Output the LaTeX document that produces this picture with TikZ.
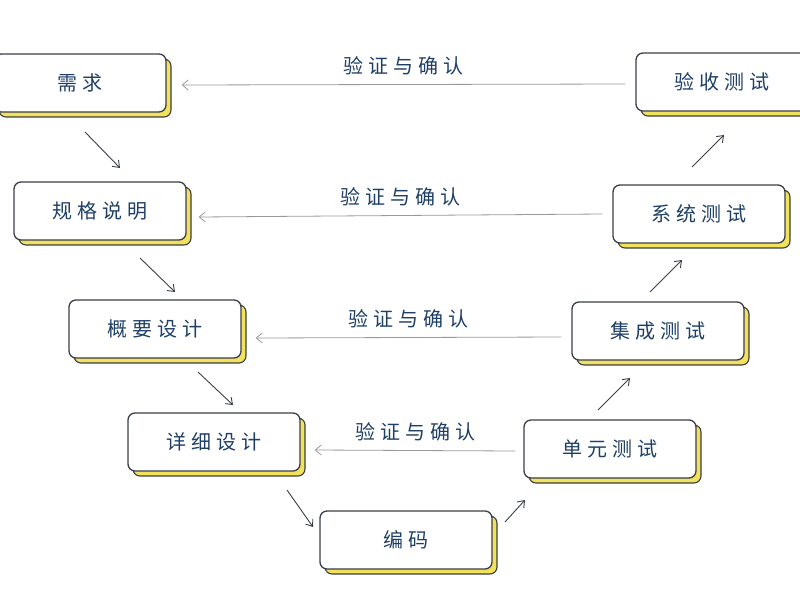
\documentclass[tikz,border=0pt]{standalone}
\usepackage{fontspec}
\newfontfamily\cjk[LetterSpace=25]{Noto Sans CJK SC}
\usetikzlibrary{arrows.meta,calc}
\definecolor{navy}{HTML}{1F3F66}
\definecolor{edge}{HTML}{3A3F47}
\definecolor{yel}{HTML}{F2E15A}
\tikzset{
  box/.style={draw=edge, line width=1.3pt, fill=white, rounded corners=7pt, minimum width=#1, minimum height=58pt, font=\cjk\fontsize{20}{22}\selectfont, text=navy},
  box/.default=172pt,
  harr/.style={draw=gray!80, line width=0.8pt, -{Straight Barb[length=6pt,width=10pt]}},
  darr/.style={draw=edge, line width=0.9pt, -{Straight Barb[length=6pt,width=9pt]}},
  lab/.style={font=\cjk\fontsize{20}{22}\selectfont, text=navy}
}
\newcommand{\vmbox}[4][172pt]{%
  \fill[yel, draw=edge, line width=1.1pt, rounded corners=7pt] ($(#2)+(-#1/2+5pt,-29pt-5pt)$) rectangle ($(#2)+(#1/2+5pt,29pt-5pt)$);
  \node[box=#1] (#3) at (#2) {#4};}
\begin{document}
\begin{tikzpicture}[x=1pt,y=-1pt]
\useasboundingbox (0,0) rectangle (800,600);
\vmbox{80,83}{a}{需求}
\vmbox{722,82}{b}{验收测试}
\vmbox{100,211}{c}{规格说明}
\vmbox{699,214}{d}{系统测试}
\vmbox{155,329}{e}{概要设计}
\vmbox{658,331}{f}{集成测试}
\vmbox{214,442}{g}{详细设计}
\vmbox{610,449}{h}{单元测试}
\vmbox{406,540}{k}{编码}
\draw[harr] ($(b.west)+(-10,2)$) -- node[lab, above=6pt]{验证与确认} ($(a.east)+(15,2)$);
\draw[harr] ($(d.west)+(-10,0)$) -- node[lab, above=6pt]{验证与确认} ($(c.east)+(12,6)$);
\draw[harr] ($(f.west)+(-10,6)$) -- node[lab, above=6pt]{验证与确认} ($(e.east)+(14,9)$);
\draw[harr] ($(h.west)+(-8,2)$) -- node[lab, above=6pt]{验证与确认} ($(g.east)+(14,8)$);
\draw[darr] (85,132) -- (120,168);
\draw[darr] (140,258) -- (175,292);
\draw[darr] (198,372) -- (233,405);
\draw[darr] (287,490) -- (313,527);
\draw[darr] (505,522) -- (525,500);
\draw[darr] (598,410) -- (630,378);
\draw[darr] (650,292) -- (682,260);
\draw[darr] (692,167) -- (724,135);
\end{tikzpicture}
\end{document}
